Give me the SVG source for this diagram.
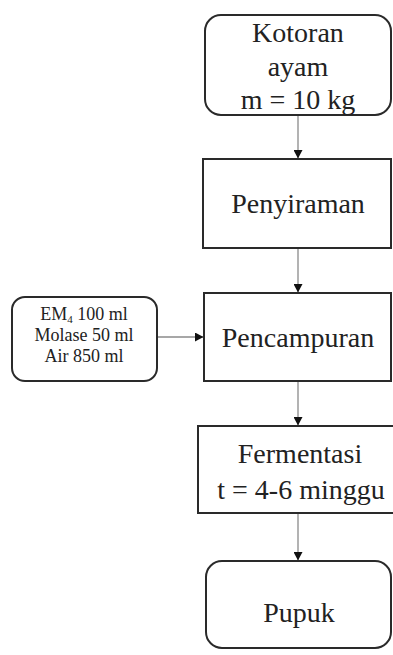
<svg xmlns="http://www.w3.org/2000/svg" width="393" height="655" viewBox="0 0 393 655">
<style>
.box{fill:#fff;stroke:#2a2a2a;stroke-width:2}
.t{font-family:"Liberation Serif","Times New Roman",serif;font-size:28px;fill:#222;text-anchor:middle}
.s{font-family:"Liberation Serif","Times New Roman",serif;font-size:18px;fill:#222;text-anchor:middle}
.c{stroke:#8a8a8a;stroke-width:1.3;fill:none;marker-end:url(#ah)}
</style>
<defs>
<marker id="ah" markerWidth="9" markerHeight="9" refX="8" refY="4.5" orient="auto" markerUnits="userSpaceOnUse">
<path d="M0,0 L8.5,4.5 L0,9 Z" fill="#111"/>
</marker>
</defs>
<rect width="393" height="655" fill="#fff"/>
<g id="connectors">
<line class="c" x1="298" y1="116" x2="298" y2="158"/>
<line class="c" x1="298" y1="249" x2="298" y2="292"/>
<line class="c" x1="157" y1="337" x2="203" y2="337"/>
<line class="c" x1="298" y1="382" x2="298" y2="425"/>
<line class="c" x1="298" y1="514" x2="298" y2="560"/>
</g>
<g id="kotoran">
<rect class="box" x="205" y="15" width="186" height="100" rx="16"/>
<text class="t" x="298" y="42">Kotoran</text>
<text class="t" x="298" y="76">ayam</text>
<text class="t" x="298" y="109">m = 10 kg</text>
</g>
<g id="penyiraman">
<rect class="box" x="203" y="159" width="188" height="89"/>
<text class="t" x="298" y="213">Penyiraman</text>
</g>
<g id="bahan">
<rect class="box" x="12" y="297" width="145" height="84" rx="13"/>
<text class="s" x="84" y="320">EM<tspan font-size="11" dy="3">4</tspan><tspan dy="-3"> 100 ml</tspan></text>
<text class="s" x="84" y="341">Molase 50 ml</text>
<text class="s" x="84" y="362">Air 850 ml</text>
</g>
<g id="pencampuran">
<rect class="box" x="204" y="293" width="187" height="88"/>
<text class="t" x="298" y="347">Pencampuran</text>
</g>
<g id="fermentasi">
<rect class="box" x="198" y="426" width="200" height="87"/>
<text class="t" x="300" y="463">Fermentasi</text>
<text class="t" x="301" y="499">t = 4-6 minggu</text>
</g>
<g id="pupuk">
<rect class="box" x="206" y="561" width="185" height="87" rx="16"/>
<text class="t" x="299" y="622">Pupuk</text>
</g>
</svg>
